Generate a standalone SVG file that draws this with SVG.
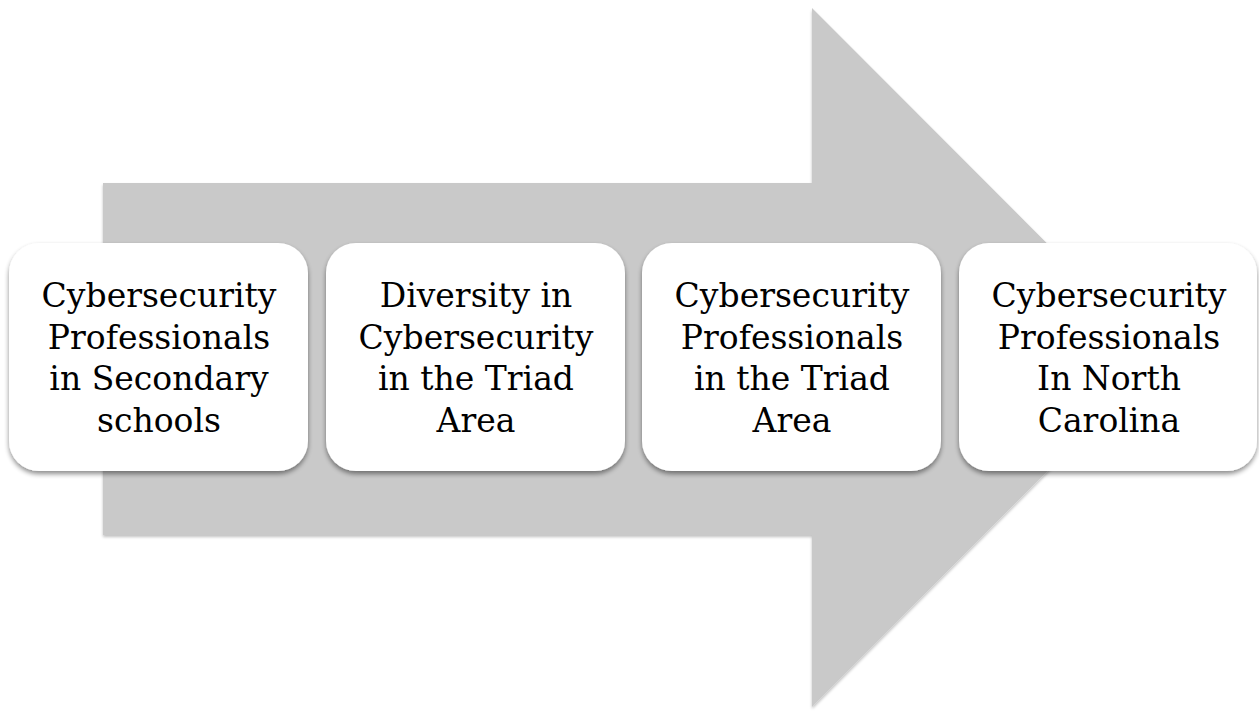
<svg xmlns="http://www.w3.org/2000/svg" width="1259" height="711" viewBox="0 0 1259 711">
<defs>
<filter id="sh" x="-10%" y="-10%" width="120%" height="125%">
<feGaussianBlur in="SourceAlpha" stdDeviation="2.5"/>
<feOffset dx="0" dy="3" result="b"/>
<feComponentTransfer><feFuncA type="linear" slope="0.45"/></feComponentTransfer>
<feMerge><feMergeNode/><feMergeNode in="SourceGraphic"/></feMerge>
</filter>
<filter id="ash" x="-5%" y="-5%" width="110%" height="110%">
<feGaussianBlur in="SourceAlpha" stdDeviation="1.5"/>
<feOffset dx="0" dy="1.5" result="b"/>
<feComponentTransfer><feFuncA type="linear" slope="0.25"/></feComponentTransfer>
<feMerge><feMergeNode/><feMergeNode in="SourceGraphic"/></feMerge>
</filter>
</defs>
<style>
.box{fill:#ffffff;filter:url(#sh);}
.t{font-family:"DejaVu Serif","Liberation Serif",serif;font-size:33px;fill:#000;text-anchor:middle;}
</style>
<rect width="1259" height="711" fill="#ffffff"/>
<g id="arrow">
<polygon points="103,183 812,183 812,8 1161,357.5 812,707 812,535 103,535" fill="#c9c9c9" filter="url(#ash)"/>
</g>
<g id="node1">
<rect class="box" x="9" y="243" width="299" height="228" rx="30"/>
<text class="t"><tspan x="159" y="307">Cybersecurity</tspan><tspan x="159" y="348.5">Professionals</tspan><tspan x="159" y="390">in Secondary</tspan><tspan x="159" y="431.5">schools</tspan></text>
</g>
<g id="node2">
<rect class="box" x="326" y="243" width="299" height="228" rx="30"/>
<text class="t"><tspan x="476" y="307">Diversity in</tspan><tspan x="476" y="348.5">Cybersecurity</tspan><tspan x="476" y="390">in the Triad</tspan><tspan x="476" y="431.5">Area</tspan></text>
</g>
<g id="node3">
<rect class="box" x="642" y="243" width="299" height="228" rx="30"/>
<text class="t"><tspan x="792" y="307">Cybersecurity</tspan><tspan x="792" y="348.5">Professionals</tspan><tspan x="792" y="390">in the Triad</tspan><tspan x="792" y="431.5">Area</tspan></text>
</g>
<g id="node4">
<rect class="box" x="959" y="243" width="298" height="228" rx="30"/>
<text class="t"><tspan x="1109" y="307">Cybersecurity</tspan><tspan x="1109" y="348.5">Professionals</tspan><tspan x="1109" y="390">In North</tspan><tspan x="1109" y="431.5">Carolina</tspan></text>
</g>
<g id="connectors"></g>
</svg>
